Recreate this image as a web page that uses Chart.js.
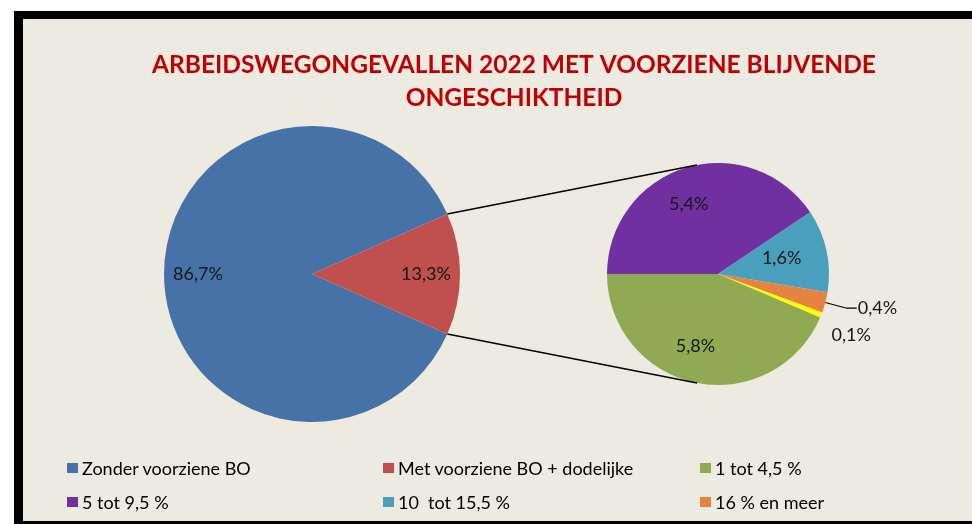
<!DOCTYPE html>
<html>
<head>
<meta charset="utf-8">
<script src="https://cdn.jsdelivr.net/npm/chart.js@4.4.1/dist/chart.umd.min.js"></script>
<style>
html, body { margin: 0; padding: 0; background: #fff; overflow: hidden; width: 972px; height: 524px; }
#frame { position: absolute; left: 14px; top: 11px; width: 982px; height: 502px; background: #edeae2;
  border-top: 8px solid #000; border-left: 9px solid #000; border-bottom: 3px solid #000; }
#myChart { position: absolute; left: 0; top: 0; }
.item { position: absolute; display: flex; align-items: center; white-space: pre; font-family: Lato; font-size: 18px; color: #000; line-height: 20px; }
.box { width: 11px; height: 10px; margin-right: 4px; }
</style>
</head>
<body>
<div id="frame">
	<canvas id="myChart" width="982" height="502"></canvas>
	<div id="legend"></div>
</div>
<script>
const mainLabels = [ 'Zonder voorziene BO', 'Met voorziene BO + dodelijke' ];
const mainValues = [ 86.7, 13.3 ];
const mainColors = [ '#4672a8', '#c0504d' ];

const subLabels = [ '5 tot 9,5 %', '10  tot 15,5 %', '16 % en meer', 'Onbekend', '1 tot 4,5 %' ];
const subValues = [ 5.4, 1.6, 0.4, 0.1, 5.8 ];
const subColors = [ '#7030a0', '#4a9fbd', '#e5843f', '#ffff00', '#8faa52' ];

const legendLabels = [ 'Zonder voorziene BO', 'Met voorziene BO + dodelijke', '1 tot 4,5 %',
	'5 tot 9,5 %', '10  tot 15,5 %', '16 % en meer' ];

// where the two pies sit on the canvas
const pies = [
	{ x: 289, y: 255, r: 148 },
	{ x: 695, y: 255, r: 111 }
];

const mainTotal = mainValues.reduce((a, b) => a + b, 0);
// red slice centred on the right side
const mainRotation = 90 - (mainValues[0] + mainValues[1] / 2) / mainTotal * 360;

const fmt = (v) => v.toFixed(1).replace('.', ',') + '%';

const placePies = {
	id: 'placePies',
	afterDatasetsUpdate(chart) {
		chart.data.datasets.forEach((ds, i) => {
			chart.getDatasetMeta(i).data.forEach((arc) => {
				arc.x = pies[i].x;
				arc.y = pies[i].y;
				arc.outerRadius = pies[i].r;
				arc.innerRadius = 0;
			});
		});
	}
};

const connectors = {
	id: 'connectors',
	afterDatasetsDraw(chart) {
		const ctx = chart.ctx;
		const red = chart.getDatasetMeta(0).data[1];
		const sub = pies[1];
		const off = 0.19;
		ctx.save();
		ctx.strokeStyle = '#000';
		ctx.lineWidth = 1.5;
		ctx.beginPath();
		ctx.moveTo(red.x + red.outerRadius * Math.cos(red.startAngle), red.y + red.outerRadius * Math.sin(red.startAngle));
		ctx.lineTo(sub.x + sub.r * Math.cos(-Math.PI / 2 - off), sub.y + sub.r * Math.sin(-Math.PI / 2 - off));
		ctx.moveTo(red.x + red.outerRadius * Math.cos(red.endAngle), red.y + red.outerRadius * Math.sin(red.endAngle));
		ctx.lineTo(sub.x + sub.r * Math.cos(Math.PI / 2 + off), sub.y + sub.r * Math.sin(Math.PI / 2 + off));
		ctx.stroke();

		// data labels
		ctx.font = '18px Lato';
		ctx.fillStyle = '#161616';
		ctx.textBaseline = 'middle';
		ctx.textAlign = 'center';
		chart.data.datasets.forEach((ds, i) => {
			const total = ds.data.reduce((a, b) => a + b, 0);
			chart.getDatasetMeta(i).data.forEach((arc, j) => {
				const v = ds.data[j];
				const mid = (arc.startAngle + arc.endAngle) / 2;
				const r = arc.outerRadius;
				const cx = Math.cos(mid), cy = Math.sin(mid);
				if (v / total > 0.05) {
					const f = i === 0 ? 0.77 : 0.66;
					ctx.textAlign = 'center';
					ctx.fillText(fmt(v), arc.x + cx * r * f - (i === 1 ? 8 : 0), arc.y + cy * r * f);
				} else if (v >= 0.3) {
					const ex = arc.x + cx * r, ey = arc.y + cy * r;
					const bx = arc.x + cx * r * 1.2, by = arc.y + cy * r * 1.2;
					ctx.beginPath();
					ctx.lineWidth = 1.2;
					ctx.moveTo(ex, ey);
					ctx.lineTo(bx, by);
					ctx.lineTo(bx + 10, by);
					ctx.stroke();
					ctx.textAlign = 'left';
					ctx.fillText(fmt(v), bx + 11, by);
				} else {
					ctx.textAlign = 'left';
					ctx.fillText(fmt(v), arc.x + cx * r * 1.1, arc.y + cy * r * 1.1 + 16);
				}
			});
		});
		ctx.restore();
	}
};

const ctx1 = document.getElementById('myChart').getContext('2d');
const chart = new Chart(ctx1, {
	type: 'pie',
	data: {
		labels: mainLabels,
		datasets: [
			{
				data: mainValues,
				backgroundColor: mainColors,
				borderWidth: 0,
				rotation: mainRotation
			},
			{
				data: subValues,
				backgroundColor: subColors,
				borderWidth: 0,
				rotation: -90
			}
		]
	},
	options: {
		responsive: false,
		animation: false,
		events: [],
		plugins: {
			legend: { display: false },
			tooltip: { enabled: false },
			title: {
				display: true,
				text: [ 'ARBEIDSWEGONGEVALLEN 2022 MET VOORZIENE BLIJVENDE', 'ONGESCHIKTHEID' ],
				color: '#c00000',
				font: { family: 'Lato', size: 24.5, weight: 'bold', lineHeight: 1.36 },
				padding: { top: 29, bottom: 10 }
			}
		}
	},
	plugins: [ placePies, connectors ]
});

// legend in three columns like the original
const colorOf = (label) => {
	let k = mainLabels.indexOf(label);
	if (k >= 0) return mainColors[k];
	return subColors[subLabels.indexOf(label)];
};
const colX = [ 44, 360, 677 ];
const rowY = [ 439, 473 ];
const legend = document.getElementById('legend');
legendLabels.forEach((label, i) => {
	const el = document.createElement('div');
	el.className = 'item';
	el.style.left = colX[i % 3] + 'px';
	el.style.top = rowY[Math.floor(i / 3)] + 'px';
	el.innerHTML = '<span class="box" style="background:' + colorOf(label) + '"></span>' + label;
	legend.appendChild(el);
});
</script>
</body>
</html>
